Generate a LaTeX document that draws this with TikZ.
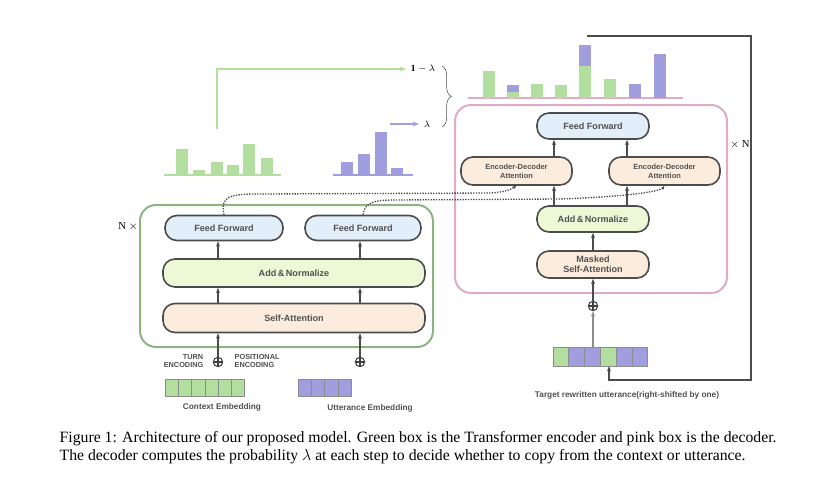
\documentclass[tikz,border=0pt]{standalone}
\usepackage{fontspec}
\setmainfont{Liberation Serif}
\newfontfamily\dsans{Liberation Sans}
\usetikzlibrary{arrows.meta,decorations.pathreplacing}
\definecolor{encg}{RGB}{140,180,130}
\definecolor{decp}{RGB}{222,172,196}
\definecolor{barg}{RGB}{178,222,160}
\definecolor{barp}{RGB}{160,158,222}
\definecolor{ffb}{RGB}{226,238,250}
\definecolor{ang}{RGB}{236,248,214}
\definecolor{atp}{RGB}{252,236,222}
\definecolor{txt}{RGB}{80,80,80}
\begin{document}
\begin{tikzpicture}[x=0.75pt,y=-0.75pt,
 blk/.style={draw=black!70,line width=1.2pt,rounded corners=9pt,inner sep=0pt,font=\dsans\bfseries\fontsize{6.8}{7.5}\selectfont,text=txt,align=center},
 arr/.style={-{Stealth[length=4pt]},line width=1.2pt,black!70},
 dot/.style={densely dotted,line width=1pt,black!70,-{Stealth[length=3pt]}},
 lab/.style={font=\dsans\bfseries\fontsize{5.5}{6}\selectfont,text=txt,align=center},
 cellg/.style={fill=barg,draw=black!45,line width=0.5pt},
 cellp/.style={fill=barp,draw=black!45,line width=0.5pt},
 op/.style={circle,draw=black!75,line width=0.8pt,minimum size=7pt,inner sep=0pt,
   path picture={\draw[black!75,line width=0.8pt] (path picture bounding box.north)--(path picture bounding box.south) (path picture bounding box.west)--(path picture bounding box.east);}}]
\useasboundingbox (0,0) rectangle (835,478);
% encoder
\draw[encg,line width=1.5pt,rounded corners=12pt] (140,205) rectangle (433,347);
\node[blk,fill=ffb,minimum width=118*0.75pt,minimum height=25*0.75pt] (ff1) at (224,228) {Feed Forward};
\node[blk,fill=ffb,minimum width=116*0.75pt,minimum height=25*0.75pt] (ff2) at (363,228) {Feed Forward};
\node[blk,fill=ang,minimum width=262*0.75pt,minimum height=28*0.75pt] (an) at (294,273) {Add\,\&\,Normalize};
\node[blk,fill=atp,minimum width=262*0.75pt,minimum height=29*0.75pt] (sa) at (294,318) {Self-Attention};
\node[font=\fontsize{8}{9}\selectfont] (nx) at (128,227) {N $\times$};
\draw[arr] (sa.north-|218,0) -- (an.south-|218,0);
\draw[arr] (sa.north-|360,0) -- (an.south-|360,0);
\draw[arr] (an.north-|218,0) -- (ff1.south-|218,0);
\draw[arr] (an.north-|360,0) -- (ff2.south-|360,0);
\node[op] (o1) at (218,362) {};
\node[op] (o2) at (360,362) {};
\draw[arr] (o1) -- (sa.south-|218,0);
\draw[arr] (o2) -- (sa.south-|360,0);
\node[lab,anchor=east,align=right] (te) at (208,361) {TURN\\ENCODING};
\node[lab,anchor=west,align=left] (pe) at (230,361) {POSITIONAL\\ENCODING};
\foreach \i in {0,...,5}{\draw[cellg] (165+\i*13.3,379) rectangle (165+\i*13.3+13.3,396);}
\foreach \i in {0,...,3}{\draw[cellp] (298+\i*13.3,379) rectangle (298+\i*13.3+13.3,396);}
\node[lab,font=\dsans\bfseries\fontsize{6.2}{7}\selectfont] (ce) at (222,407) {Context Embedding};
\node[lab,font=\dsans\bfseries\fontsize{6.2}{7}\selectfont] (ue) at (370,408) {Utterance Embedding};
% histograms
\draw[barg,line width=1pt] (164,175) -- (281,175);
\foreach \a/\t in {176/149,193/170,211/162,227/165,243/144,261/158}{\fill[barg] (\a,\t) rectangle (\a+12,175);}
\draw[barp,line width=1pt] (333,175) -- (413,175);
\foreach \a/\t in {341/162,358/154,375/132,391/168}{\fill[barp] (\a,\t) rectangle (\a+12,175);}
\coordinate (gs) at (217,129);
\node[font=\fontsize{7}{8}\selectfont] (l1) at (423,69) {$\mathbf{1-\lambda}$};
\node[font=\fontsize{7}{8}\selectfont] (l0) at (427,124) {$\lambda$};
\draw[barg,line width=1pt,-{Stealth[length=5pt]}] (gs) |- (l1.west);
\coordinate (ps) at (390,124);
\draw[barp,line width=1pt,-{Stealth[length=5pt]}] (ps) -- (l0.west);
\draw[black!70,decorate,decoration={brace,amplitude=7pt}] (442,66) -- (442,127);
% decoder
\draw[decp,line width=1.5pt,rounded corners=12pt] (455,105) rectangle (727,293);
\draw[decp,line width=1pt] (468,98) -- (683,98);
\foreach \a/\t in {483/71,507/92,531/84,555/85,579/66,604/79}{\fill[barg] (\a,\t) rectangle (\a+12,98);}
\fill[barp] (507,85) rectangle (519,92);
\fill[barp] (579,45) rectangle (591,66);
\fill[barp] (629,84) rectangle (641,98);
\fill[barp] (654,54) rectangle (666,98);
\node[blk,fill=ffb,minimum width=112*0.75pt,minimum height=26*0.75pt] (dff) at (593,126) {Feed Forward};
\node[blk,fill=atp,minimum width=111*0.75pt,minimum height=28*0.75pt,font=\dsans\bfseries\fontsize{5.6}{6.6}\selectfont] (ed1) at (516.5,171) {Encoder-Decoder\\Attention};
\node[blk,fill=atp,minimum width=111*0.75pt,minimum height=28*0.75pt,font=\dsans\bfseries\fontsize{5.6}{6.6}\selectfont] (ed2) at (664.5,171) {Encoder-Decoder\\Attention};
\node[blk,fill=ang,minimum width=112*0.75pt,minimum height=26*0.75pt] (dan) at (593,219) {Add\,\&\,Normalize};
\node[blk,fill=atp,minimum width=112*0.75pt,minimum height=27*0.75pt] (msa) at (593,264.5) {Masked\\Self-Attention};
\draw[arr] (dan.north-|554,0) -- (ed1.south-|554,0);
\draw[arr] (dan.north-|627,0) -- (ed2.south-|627,0);
\draw[arr] (ed1.north-|554,0) -- (dff.south-|554,0);
\draw[arr] (ed2.north-|627,0) -- (dff.south-|627,0);
\draw[arr] (msa) -- (dan);
\node[op] (o3) at (593,306) {};
\draw[arr] (o3) -- (msa);
\foreach \i/\c in {0/cellg,1/cellp,2/cellp,3/cellg,4/cellp,5/cellp}{\draw[\c] (553+\i*15.8,347) rectangle (553+\i*15.8+15.8,366);}
\coordinate (tc) at (593,347);
\draw[-{Stealth[length=4pt]},line width=1pt,black!45] (tc) -- (o3);
\node[lab,font=\dsans\bfseries\fontsize{6.2}{7}\selectfont] (tl) at (627,395) {Target rewritten utterance(right-shifted by one)};
\coordinate (fb0) at (587,36);
\coordinate (fb1) at (751,36);
\coordinate (fb2) at (751,380);
\coordinate (tcb) at (609,366);
\draw[black!70,line width=0.8pt,-{Stealth[length=4pt]}] (fb0) -- (fb1) -- (fb2) -| (tcb);
\node[font=\fontsize{8}{9}\selectfont] (xn) at (740,145) {$\times$ N};
% dotted
\draw[dot] (ff1.north) .. controls (220,196) and (230,194) .. (260,194) -- (490,193) .. controls (505,192) and (510,190) .. (ed1.south);
\draw[dot] (ff2.north) .. controls (365,203) and (372,200) .. (395,200) -- (560,199) .. controls (620,197) and (660,192) .. (ed2.south);
% caption
\node[anchor=west,font=\fontsize{11.8}{13}\selectfont] (c1) at (55,439) {Figure 1: Architecture of our proposed model. Green box is the Transformer encoder and pink box is the decoder.};
\node[anchor=west,font=\fontsize{11.8}{13}\selectfont] (c2) at (55,457) {The decoder computes the probability $\lambda$ at each step to decide whether to copy from the context or utterance.};
\end{tikzpicture}
\end{document}
